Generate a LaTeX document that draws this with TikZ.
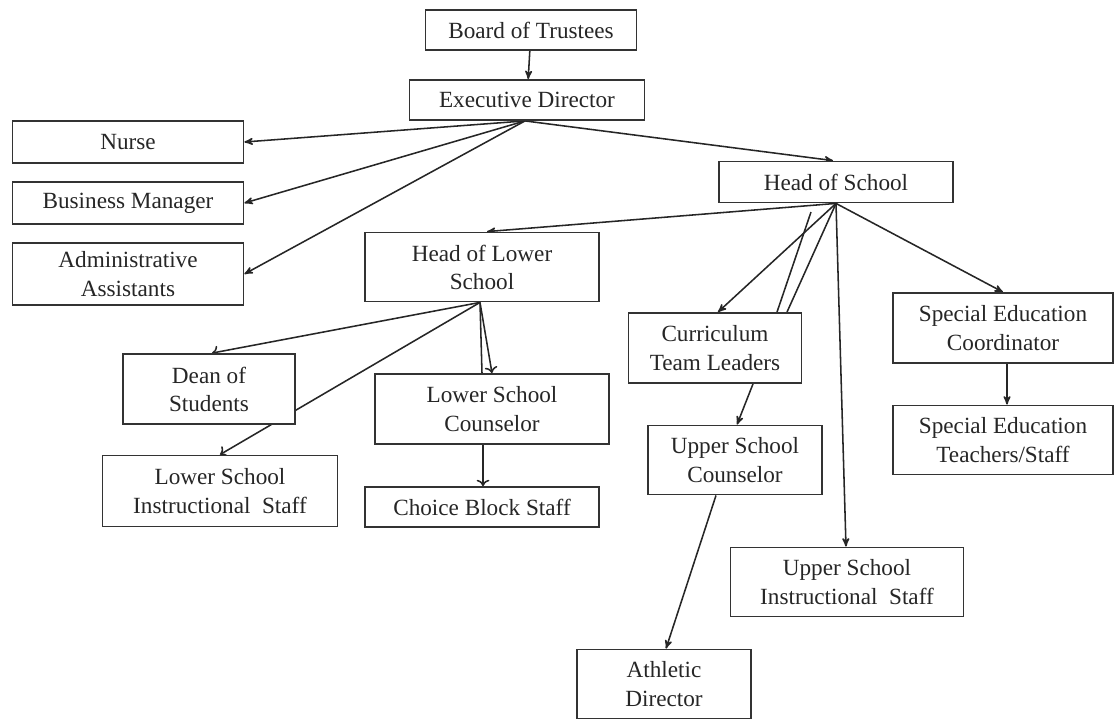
\documentclass[tikz,border=0pt]{standalone}
\usepackage{fontspec}
\setmainfont{Liberation Serif}
\usetikzlibrary{arrows, arrows.meta, backgrounds, calc}

\begin{document}
\begin{tikzpicture}[x=0.025cm, y=-0.025cm, >=stealth',
	every edge/.style={draw, line width=1.1pt, black!85},
	box/.style 2 args={draw=black!80, line width=1.3pt, fill=white, align=center, inner sep=0pt, font=\fontsize{16.5}{20}\selectfont, text=black!85, minimum width=#1*0.025cm, minimum height=#2*0.025cm},
	bare/.style={draw=black!85, line width=1.1pt},
	open/.style={-{To[length=4.5pt, width=9pt]}}]
		\useasboundingbox (0,0) rectangle (1114,719);

		\node[box={211}{40}]	(bot) at (531,30) {Board of Trustees};
		\node[box={235}{40}]	(exec) at (527,100) {Executive Director};
		\node[box={231}{42}]	(nurse) at (128,142) {Nurse};
		\node[box={231}{42}]	(busmgr) at (128,203) {Business Manager};
		\node[box={231}{62}]	(admin) at (128,274) {Administrative\\Assistants};
		\node[box={234}{41}]	(hos) at (836,182) {Head of School};
		\node[box={234}{69}]	(hols) at (482,267) {Head of Lower\\School};
		\node[box={173}{70}]	(ctl) at (715,348) {Curriculum\\Team Leaders};
		\node[box={220}{70}]	(sec) at (1003,328) {Special Education\\Coordinator};
		\node[box={172}{70}]	(dean) at (209,389) {Dean of\\Students};
		\node[box={234}{70}]	(lsc) at (492,409) {Lower School\\Counselor};
		\node[box={220}{69}]	(sets) at (1003,440) {Special Education\\Teachers/Staff};
		\node[box={174}{69}]	(usc) at (735,460) {Upper School\\Counselor};
		\node[box={235}{71}]	(lsis) at (220,491) {Lower School\\Instructional~~Staff};
		\node[box={234}{40}]	(cbs) at (482,507) {Choice Block Staff};
		\node[box={233}{69}]	(usis) at (847,582) {Upper School\\Instructional~~Staff};
		\node[box={174}{69}]	(ad) at (664,684) {Athletic\\Director};

		\coordinate (loose) at (811,212);

		\begin{pgfonlayer}{background}
		\path[->]	(bot) edge (exec)
				($(exec.south)+(-2,0)$) edge (nurse.east)
				($(exec.south)+(-2,0)$) edge (busmgr.east)
				($(exec.south)+(-2,0)$) edge (admin.east)
				($(exec.south)+(-2,0)$) edge ($(hos.north)+(-3,0)$)
				(hos.south) edge ($(hols.north)+(5,0)$)
				(hos.south) edge ($(ctl.north)+(3,0)$)
				(hos.south) edge ($(usis.north)+(-1,0)$)
				(hos.south) edge (sec.north)
				($(sec.south)+(4,0)$) edge ($(sets.north)+(4,0)$)
				($(ctl.south)+(38,0)$) edge ($(usc.north)+(2,0)$)
				($(usc.south)+(-19,0)$) edge ($(ad.north)+(2,0)$);
		\path		(loose) edge ($(ctl.north)+(62,0)$)
				(hos.south) edge ($(ctl.north)+(72,0)$);
		\path[open]	($(hols.south)+(-2,0)$) edge ($(dean.north)+(3,0)$)
				($(hols.south)+(-2,0)$) edge (lsis.north)
				($(hols.south)+(-2,0)$) edge (lsc.north)
				($(lsc.south)+(-9,0)$) edge ($(cbs.north)+(1,0)$);
		\draw[bare]	($(hols.south)+(-2,0)$) -- ($(lsc.north)+(-10,0)$);
		\end{pgfonlayer}
	\end{tikzpicture}
\end{document}
